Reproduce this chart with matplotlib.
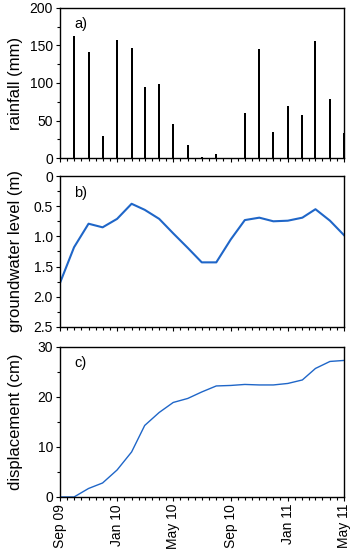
import numpy as np
import pandas as pd
import matplotlib
matplotlib.use('Agg')
import matplotlib.pyplot as plt
import matplotlib.dates as mdates

plt.rcParams['font.family'] = ['Liberation Sans', 'DejaVu Sans']

# monthly dates Sep 09 .. May 11
months = pd.date_range('2009-09-01', '2011-05-01', freq='MS')

# rainfall totals, Oct 09 .. May 11 (mm)
rain_months = months[1:]
rainfall = [162, 141, 29, 157, 146, 95, 98, 45, 17, 2, 5, 0,
            60, 145, 35, 69, 58, 156, 78, 33]

# groundwater level below surface (m), Sep 09 .. May 11
groundwater = [1.77, 1.18, 0.79, 0.85, 0.71, 0.46, 0.56, 0.71, 0.95, 1.19,
               1.43, 1.43, 1.05, 0.73, 0.69, 0.75, 0.74, 0.69, 0.55, 0.74, 0.98]

# cumulative displacement (cm), Sep 09 .. May 11
displacement = [0.0, 0.0, 1.7, 2.8, 5.4, 9.0, 14.3, 16.9, 18.9, 19.7,
                21.0, 22.2, 22.3, 22.5, 22.4, 22.4, 22.7, 23.4, 25.7, 27.1, 27.3]

line_color = '#1f66c8'
tick_fs = 10
label_fs = 12

fig = plt.figure(figsize=(3.53, 5.5), dpi=100)
left, width = 0.170, 0.8045
ax_a = fig.add_axes([left, 0.7127, width, 0.2728])
ax_b = fig.add_axes([left, 0.4055, width, 0.2745])
ax_c = fig.add_axes([left, 0.0964, width, 0.2728])

# a) rainfall - thin monthly bars
ax_a.vlines(rain_months, 0, rainfall, color='black', lw=1.44)
ax_a.set_ylim(0, 200)
ax_a.set_yticks([0, 50, 100, 150, 200])
ax_a.set_yticks(np.arange(25, 200, 50), minor=True)
ax_a.set_ylabel('rainfall (mm)', fontsize=label_fs)

# b) groundwater
ax_b.plot(months, groundwater, color=line_color, lw=1.5)
ax_b.set_ylim(2.5, 0)
ax_b.set_yticks([0, 0.5, 1.0, 1.5, 2.0, 2.5])
ax_b.set_yticklabels(['0', '0.5', '1.0', '1.5', '2.0', '2.5'])
ax_b.set_yticks(np.arange(0.25, 2.5, 0.5), minor=True)
ax_b.set_ylabel('groundwater level (m)', fontsize=label_fs)

# c) displacement
ax_c.plot(months, displacement, color=line_color, lw=1.0)
ax_c.set_ylim(0, 30)
ax_c.set_yticks([0, 10, 20, 30])
ax_c.set_yticks([5, 15, 25], minor=True)
ax_c.set_ylabel('displacement (cm)', fontsize=label_fs)

for ax, lab in zip([ax_a, ax_b, ax_c], ['a)', 'b)', 'c)']):
    ax.set_xlim(months[0], months[-1])
    ax.xaxis.set_major_locator(mdates.MonthLocator(bymonth=[1, 5, 9]))
    ax.xaxis.set_minor_locator(mdates.DayLocator(bymonthday=[1, 16]))
    ax.xaxis.set_major_formatter(mdates.DateFormatter('%b %y'))
    ax.tick_params(axis='both', which='major', direction='out', length=3,
                   width=0.8, labelsize=tick_fs, pad=2)
    ax.tick_params(axis='both', which='minor', direction='out', length=2,
                   width=0.8)
    ax.yaxis.set_label_coords(-0.13, 0.5)
    for s in ax.spines.values():
        s.set_linewidth(1.0)
    ax.text(0.05, 0.89, lab, transform=ax.transAxes, fontsize=tick_fs + 0.5,
            va='center', ha='left')
    if ax is not ax_c:
        ax.tick_params(axis='x', labelbottom=False)

for t in ax_c.get_xticklabels():
    t.set_rotation(90)

fig.savefig('out.png', dpi=100)
